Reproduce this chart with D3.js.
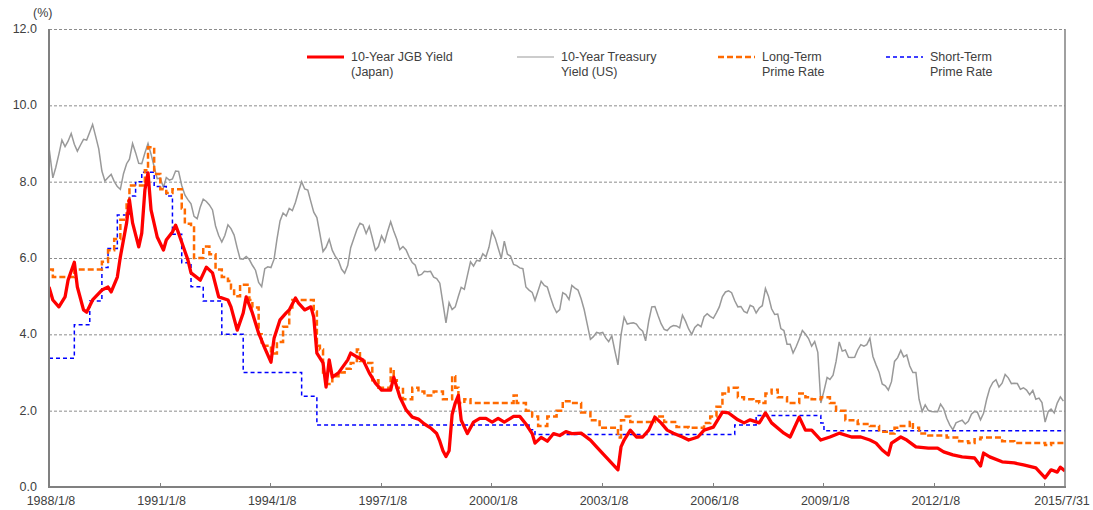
<!DOCTYPE html>
<html>
<head>
<meta charset="utf-8">
<script src="https://cdn.jsdelivr.net/npm/d3@7"></script>
<style>
  html, body { margin: 0; padding: 0; background: #fff; }
  svg { display: block; font-family: "Liberation Sans", Arial, sans-serif; }
</style>
</head>
<body>
<div id="chart"></div>
<script>
// 10-Year JGB yield (Japan), [date, %]
const jgb = [
  ["1988-01-08",5.24],["1988-02",4.9],["1988-04",4.72],["1988-06",4.98],["1988-07",5.42],["1988-09",5.89],["1988-10",5.24],["1988-12",4.64],
  ["1989-01",4.58],["1989-03",4.9],["1989-06",5.16],["1989-08",5.24],["1989-09",5.11],["1989-11",5.5],["1989-12",6.03],
  ["1990-02",6.92],["1990-03",7.52],["1990-04",6.92],["1990-06",6.29],["1990-07",6.65],["1990-08",7.78],["1990-09",8.23],["1990-10",7.26],["1990-12",6.55],
  ["1991-02",6.21],["1991-03",6.47],["1991-05",6.68],["1991-06",6.86],["1991-07",6.65],["1991-10",5.95],["1991-11",5.61],
  ["1992-02",5.42],["1992-04",5.76],["1992-06",5.61],["1992-08",4.98],["1992-11",4.9],["1992-12",4.72],
  ["1993-02",4.11],["1993-04",4.56],["1993-05",4.98],["1993-07",4.56],["1993-09",4.03],["1993-11",3.64],
  ["1994-01",3.27],["1994-02",3.9],["1994-04",4.38],["1994-06",4.56],["1994-07",4.64],["1994-09",4.95],["1994-10",4.82],["1994-12",4.64],
  ["1995-02",4.72],["1995-03",4.45],["1995-04",3.51],["1995-06",3.25],["1995-07",2.62],["1995-08",3.33],["1995-09",2.88],["1995-11",2.99],
  ["1996-02",3.33],["1996-03",3.51],["1996-05",3.41],["1996-07",3.33],["1996-09",2.99],["1996-11",2.72],
  ["1997-01",2.54],["1997-04",2.54],["1997-05",2.88],["1997-07",2.36],["1997-09",2.02],["1997-11",1.83],
  ["1998-01",1.78],["1998-03",1.65],["1998-05",1.55],["1998-07",1.4],["1998-08",1.2],["1998-09",0.95],["1998-10",0.8],["1998-11",0.95],["1998-12",1.9],
  ["1999-01",2.2],["1999-02",2.4],["1999-03",1.75],["1999-05",1.4],["1999-07",1.7],["1999-09",1.8],["1999-11",1.8],
  ["2000-01",1.7],["2000-03",1.8],["2000-05",1.7],["2000-08",1.85],["2000-10",1.85],["2000-12",1.65],
  ["2001-02",1.4],["2001-03",1.15],["2001-05",1.3],["2001-07",1.2],["2001-09",1.4],["2001-11",1.35],
  ["2002-01",1.45],["2002-03",1.4],["2002-06",1.41],["2002-09",1.23],["2002-11",1.05],
  ["2003-02",0.79],["2003-06",0.45],["2003-07",1.05],["2003-08",1.23],["2003-10",1.49],["2003-12",1.31],
  ["2004-02",1.31],["2004-04",1.49],["2004-06",1.83],["2004-08",1.68],["2004-10",1.49],["2004-12",1.41],
  ["2005-03",1.31],["2005-05",1.23],["2005-08",1.31],["2005-10",1.49],
  ["2006-01",1.57],["2006-04",1.96],["2006-06",1.94],["2006-09",1.76],["2006-11",1.68],
  ["2007-01",1.76],["2007-04",1.68],["2007-06",1.94],["2007-08",1.68],["2007-12",1.41],
  ["2008-02",1.31],["2008-05",1.83],["2008-07",1.49],["2008-09",1.49],["2008-12",1.23],
  ["2009-03",1.31],["2009-06",1.41],["2009-10",1.31],
  ["2010-01",1.31],["2010-04",1.23],["2010-06",1.15],["2010-08",0.97],["2010-10",0.84],["2010-11",1.15],
  ["2011-02",1.31],["2011-04",1.23],["2011-07",1.05],["2011-11",1.02],
  ["2012-02",1.02],["2012-04",0.92],["2012-07",0.84],["2012-10",0.79],
  ["2013-02",0.76],["2013-04",0.55],["2013-05",0.89],["2013-07",0.79],["2013-11",0.66],
  ["2014-03",0.63],["2014-06",0.58],["2014-10",0.5],
  ["2015-01",0.24],["2015-03",0.45],["2015-05",0.39],["2015-06",0.52],["2015-07-31",0.42]
];

// 10-Year Treasury yield (US), one value per month from 1988/1
const treasuryStart = "1988-01";
const treasury = [
  8.9,8.1,8.37,8.72,9.09,8.92,9.06,9.26,8.98,8.8,8.96,9.11,
  9.09,9.3,9.5,9.18,8.86,8.28,8.02,8.11,8.19,8.01,7.87,7.8,
  8.21,8.47,8.59,9.0,8.76,8.48,8.47,8.75,9.0,8.72,8.39,8.08,
  8.09,7.85,8.11,8.04,8.07,8.28,8.27,7.9,7.65,7.53,7.42,7.09,
  7.03,7.34,7.54,7.48,7.39,7.26,6.84,6.59,6.42,6.59,6.87,6.77,
  6.6,6.26,5.98,5.97,6.04,5.96,5.81,5.68,5.36,5.25,5.72,5.77,
  5.75,5.97,6.48,6.97,7.18,7.1,7.3,7.24,7.46,7.74,8.0,7.81,
  7.78,7.47,7.2,7.06,6.63,6.17,6.28,6.49,6.2,6.04,5.93,5.71,
  5.6,5.81,6.27,6.51,6.74,6.91,6.87,6.64,6.83,6.53,6.2,6.3,
  6.58,6.42,6.69,6.95,6.71,6.49,6.22,6.3,6.21,6.03,5.88,5.81,
  5.54,5.57,5.65,5.64,5.65,5.5,5.46,5.34,4.81,4.3,4.83,4.65,
  4.72,5.0,5.23,5.18,5.54,5.9,5.79,5.94,5.92,6.11,6.03,6.28,
  6.7,6.52,6.26,5.99,6.44,6.1,6.05,5.83,5.8,5.74,5.72,5.24,
  5.16,5.1,4.89,5.14,5.39,5.28,5.24,4.97,4.73,4.57,4.65,5.09,
  5.04,4.91,5.28,5.21,5.16,4.93,4.65,4.26,3.87,3.94,4.05,4.03,
  4.05,3.9,3.81,3.96,3.57,3.2,3.98,4.45,4.27,4.29,4.3,4.27,
  4.15,4.08,3.83,4.35,4.72,4.73,4.5,4.28,4.13,4.1,4.19,4.23,
  4.22,4.17,4.5,4.34,4.14,4.0,4.18,4.26,4.2,4.46,4.54,4.47,
  4.42,4.57,4.72,4.99,5.11,5.14,5.09,4.88,4.72,4.73,4.6,4.56,
  4.76,4.72,4.56,4.69,4.75,5.2,5.0,4.67,4.52,4.53,4.15,4.1,
  3.74,3.74,3.51,3.68,3.88,4.1,4.01,3.89,3.69,3.81,3.53,2.2,
  2.52,2.87,2.82,2.93,3.29,3.8,3.56,3.59,3.4,3.39,3.4,3.59,
  3.73,3.69,3.73,3.9,3.42,3.2,3.01,2.7,2.65,2.54,2.76,3.29,
  3.39,3.58,3.41,3.46,3.17,3.0,3.0,2.3,1.98,2.15,2.01,1.98,
  1.97,1.97,2.17,2.05,1.8,1.62,1.5,1.68,1.72,1.75,1.65,1.72,
  1.91,1.98,1.96,1.76,1.93,2.3,2.58,2.74,2.81,2.62,2.72,2.95,
  2.86,2.71,2.72,2.71,2.56,2.6,2.54,2.42,2.53,2.3,2.33,2.21,
  1.7,1.98,2.04,1.94,2.2,2.36,2.25
];

// Long-term prime rate, [date of change, %]
const longPrime = [
  ["1988-01-08",5.7],["1988-02",5.5],["1988-09",5.7],["1989-06",5.9],["1989-08",6.2],["1989-10",6.5],["1989-12",7.0],
  ["1990-02",7.5],["1990-03",7.9],["1990-08",8.3],["1990-09",8.9],["1990-11",8.2],
  ["1991-01",7.8],["1991-03",7.7],["1991-05",7.8],["1991-08",7.3],["1991-09",6.9],["1991-11",6.8],["1991-12",6.0],
  ["1992-03",6.3],["1992-05",6.1],["1992-07",5.7],["1992-09",5.5],["1992-11",5.4],["1992-12",5.2],
  ["1993-01",5.0],["1993-03",5.3],["1993-06",4.9],["1993-07",4.7],["1993-09",4.0],["1993-10",3.7],
  ["1994-01",3.5],["1994-03",3.8],["1994-05",4.2],["1994-07",4.7],["1994-08",4.9],
  ["1995-03",4.6],["1995-04",3.7],["1995-05",3.6],["1995-06",3.0],["1995-07",2.7],["1995-09",2.9],["1995-11",3.0],
  ["1996-01",3.1],["1996-03",3.25],["1996-05",3.6],["1996-06",3.3],["1996-08",3.25],["1996-10",2.8],["1996-12",2.6],
  ["1997-04",3.1],["1997-05",2.8],["1997-06",2.6],["1997-08",2.3],["1997-11",2.6],
  ["1998-01",2.5],["1998-03",2.4],["1998-06",2.5],["1998-09",2.3],["1998-12",2.9],
  ["1999-01",2.6],["1999-02",2.2],["1999-04",2.3],["1999-06",2.2],
  ["2000-08",2.4],["2000-09",2.2],["2000-12",2.0],
  ["2001-02",1.85],["2001-04",1.6],["2001-07",1.85],["2001-10",2.0],["2001-12",2.25],
  ["2002-03",2.2],["2002-06",1.95],["2002-09",1.75],["2002-12",1.55],
  ["2003-06",1.3],["2003-07",1.75],["2003-08",1.85],["2003-10",1.7],
  ["2004-06",1.85],["2004-09",1.7],["2005-01",1.57],["2005-05",1.55],["2005-10",1.68],["2005-12",1.85],
  ["2006-02",2.1],["2006-04",2.45],["2006-06",2.6],["2006-09",2.35],["2006-11",2.3],
  ["2007-02",2.25],["2007-04",2.2],["2007-06",2.45],["2007-08",2.55],["2007-10",2.35],
  ["2008-01",2.2],["2008-05",2.45],["2008-07",2.35],["2008-09",2.3],["2008-12",2.35],
  ["2009-03",2.2],["2009-05",2.0],["2009-08",1.75],["2009-12",1.65],
  ["2010-04",1.6],["2010-07",1.45],["2010-10",1.4],["2010-12",1.55],
  ["2011-02",1.6],["2011-05",1.7],["2011-06",1.55],["2011-08",1.4],["2011-11",1.35],
  ["2012-05",1.3],["2012-09",1.2],["2012-12",1.15],
  ["2013-02",1.25],["2013-04",1.3],["2013-11",1.2],
  ["2014-03",1.15],["2015-01",1.1],["2015-03",1.15],["2015-07-31",1.15]
];

// Short-term prime rate, [date of change, %]
const shortPrime = [
  ["1988-01-08",3.375],["1988-09",4.25],["1989-02",4.875],["1989-06",5.75],["1989-08",6.25],["1989-11",7.125],
  ["1990-03",7.625],["1990-05",8.0],["1990-07",8.25],["1990-11",7.875],
  ["1991-03",7.625],["1991-05",6.625],["1991-08",5.875],["1991-11",5.25],
  ["1992-03",4.875],["1992-09",4.0],["1993-04",3.0],["1994-11",2.375],["1995-04",1.625],
  ["2001-01",1.5],["2001-03",1.375],["2006-08",1.625],["2007-03",1.875],
  ["2008-12",1.675],["2009-01",1.475],["2015-07-31",1.475]
];

const yTicks = [0, 2, 4, 6, 8, 10, 12];
const xTickDates = ["1988-01-08","1991-01-08","1994-01-08","1997-01-08","2000-01-08","2003-01-08","2006-01-08","2009-01-08","2012-01-08","2015-01-08"];
const xTickLabels = ["1988/1/8","1991/1/8","1994/1/8","1997/1/8","2000/1/8","2003/1/8","2006/1/8","2009/1/8","2012/1/8",""];
const endLabel = "2015/7/31";

const legendItems = [
  {lines: ["10-Year JGB Yield", "(Japan)"], color: "#ff0000", width: 3, dash: null},
  {lines: ["10-Year Treasury", "Yield (US)"], color: "#999999", width: 1.2, dash: null},
  {lines: ["Long-Term", "Prime Rate"], color: "#ff6a00", width: 2.5, dash: "6,3"},
  {lines: ["Short-Term", "Prime Rate"], color: "#0000ff", width: 1.5, dash: "4,3"}
];

const W = 1093, H = 510;
const margin = {left: 49, right: 28, top: 29, bottom: 23};

const parseDay = d3.timeParse("%Y-%m-%d");
const toDate = s => s.length === 7 ? parseDay(s + "-15") : parseDay(s);

const svg = d3.select("#chart").append("svg")
  .attr("width", W).attr("height", H);

const x = d3.scaleTime()
  .domain([parseDay("1988-01-08"), parseDay("2015-07-31")])
  .range([margin.left, W - margin.right]);
const y = d3.scaleLinear()
  .domain([0, 12])
  .range([H - margin.bottom, margin.top]);

const textColor = "#404040";
const axisColor = "#808080";

// grid
svg.append("g").selectAll("line").data(yTicks.filter(d => d > 0)).join("line")
  .attr("x1", x.range()[0]).attr("x2", x.range()[1])
  .attr("y1", d => y(d) + 0.5).attr("y2", d => y(d) + 0.5)
  .attr("stroke", "#8c8c8c").attr("stroke-width", 1).attr("stroke-dasharray", "3,2");

// y labels
svg.append("g").selectAll("text").data(yTicks).join("text")
  .attr("x", 37).attr("y", d => y(d) + 4)
  .attr("text-anchor", "end")
  .attr("font-size", 12.5).attr("fill", textColor)
  .text(d => d.toFixed(1));

svg.append("text").attr("x", 33).attr("y", 17)
  .attr("font-size", 12.5).attr("fill", textColor).text("(%)");

// series
const g = svg.append("g");
const clipId = "plotclip";
svg.append("clipPath").attr("id", clipId).append("rect")
  .attr("x", x.range()[0]).attr("y", margin.top - 5)
  .attr("width", x.range()[1] - x.range()[0]).attr("height", H - margin.bottom - margin.top + 5);
g.attr("clip-path", `url(#${clipId})`);

const t0 = parseDay(treasuryStart + "-15");
const treasuryPts = treasury.map((v, i) => [i === 0 ? parseDay("1988-01-08") : d3.timeMonth.offset(t0, i), v]);

const line = d3.line().x(d => x(d[0])).y(d => y(d[1]));
const stepLine = d3.line().x(d => x(d[0])).y(d => y(d[1])).curve(d3.curveStepAfter);

g.append("path").datum(treasuryPts)
  .attr("fill", "none").attr("stroke", "#999999").attr("stroke-width", 1.5)
  .attr("d", line);

g.append("path").datum(shortPrime.map(d => [toDate(d[0]), d[1]]))
  .attr("fill", "none").attr("stroke", "#0000ff").attr("stroke-width", 1.5)
  .attr("stroke-dasharray", "4,3")
  .attr("d", stepLine);

g.append("path").datum(longPrime.map(d => [toDate(d[0]), d[1]]))
  .attr("fill", "none").attr("stroke", "#ff6a00").attr("stroke-width", 2.5)
  .attr("stroke-dasharray", "6,3")
  .attr("d", stepLine);

g.append("path").datum(jgb.map(d => [toDate(d[0]), d[1]]))
  .attr("fill", "none").attr("stroke", "#ff0000").attr("stroke-width", 3.3)
  .attr("stroke-linejoin", "round")
  .attr("d", line);

// axes frame
const bottomY = y(0);
svg.append("line").attr("x1", x.range()[0] - 1).attr("x2", x.range()[1] + 1)
  .attr("y1", bottomY).attr("y2", bottomY)
  .attr("stroke", axisColor).attr("stroke-width", 2);
svg.append("line").attr("x1", x.range()[0]).attr("x2", x.range()[0])
  .attr("y1", y(12)).attr("y2", bottomY)
  .attr("stroke", axisColor).attr("stroke-width", 2);
svg.append("line").attr("x1", x.range()[1]).attr("x2", x.range()[1])
  .attr("y1", y(12)).attr("y2", bottomY)
  .attr("stroke", axisColor).attr("stroke-width", 1.5);

// x ticks and labels
const xt = xTickDates.map(parseDay);
svg.append("g").selectAll("line").data(xt).join("line")
  .attr("x1", d => Math.round(x(d)) + 0.5).attr("x2", d => Math.round(x(d)) + 0.5)
  .attr("y1", bottomY).attr("y2", bottomY - 4)
  .attr("stroke", axisColor).attr("stroke-width", 1);
svg.append("g").selectAll("text").data(xt).join("text")
  .attr("x", d => x(d) + 2).attr("y", H - 5)
  .attr("text-anchor", "middle")
  .attr("font-size", 12.5).attr("fill", textColor)
  .text((d, i) => xTickLabels[i]);
svg.append("text").attr("x", x.range()[1] - 3).attr("y", H - 5)
  .attr("text-anchor", "middle").attr("font-size", 12.5).attr("fill", textColor)
  .text(endLabel);

// legend
const legendX = [307, 517, 718, 886];
const leg = svg.append("g");
legendItems.forEach((item, i) => {
  const lx = legendX[i];
  leg.append("line").attr("x1", lx).attr("x2", lx + 37).attr("y1", 57).attr("y2", 57)
    .attr("stroke", item.color).attr("stroke-width", item.width)
    .attr("stroke-dasharray", item.dash);
  const t = leg.append("text").attr("x", lx + 44).attr("y", 61)
    .attr("font-size", 12.5).attr("fill", textColor);
  item.lines.forEach((s, j) => {
    t.append("tspan").attr("x", lx + 44).attr("dy", j === 0 ? 0 : 15).text(s);
  });
});
</script>
</body>
</html>
